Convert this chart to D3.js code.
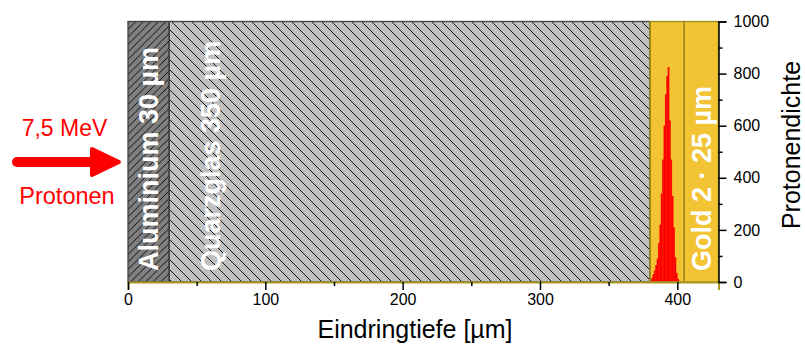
<!DOCTYPE html>
<html>
<head>
<meta charset="utf-8">
<script src="https://cdn.jsdelivr.net/npm/d3@7"></script>
<style>
  body { margin: 0; background: #fff; }
  text { font-family: "Liberation Sans", Arial, sans-serif; }
</style>
</head>
<body>
<script>
// layers of the target stack (µm)
var layerNames = ["Aluminium 30 µm", "Quarzglas 350 µm", "", "Gold 2 · 25 µm"],
    layerStart = [0, 30, 380, 405],
    layerEnd   = [30, 380, 405, 430];

// proton density histogram, 1 µm bins (bin centre, counts)
var binCenter = [380.5, 381.5, 382.5, 383.5, 384.5, 385.5, 386.5, 387.5, 388.5, 389.5, 390.5,
                 391.5, 392.5, 393.5, 394.5, 395.5, 396.5, 397.5, 398.5, 399.5, 400.5, 401.5],
    binCount  = [8, 15, 30, 45, 65, 90, 150, 220, 340, 470, 600,
                 720, 790, 825, 620, 470, 330, 210, 95, 35, 12, 4];

var xTicks = [0, 100, 200, 300, 400],
    xMinor = [50, 150, 250, 350],
    yTicks = [0, 200, 400, 600, 800, 1000],
    yMinor = [100, 300, 500, 700, 900];

var canvasWidth = 805, canvasHeight = 344,
    plotLeft = 128, plotRight = 718.5, plotTop = 21.5, plotBottom = 282;

var svg = d3.select("body").append("svg")
    .attr("width", canvasWidth)
    .attr("height", canvasHeight);

var x = d3.scaleLinear().domain([0, 430]).range([plotLeft, plotRight]);
var y = d3.scaleLinear().domain([0, 1000]).range([plotBottom, plotTop]);

// hatch patterns
var defs = svg.append("defs");
defs.append("pattern")
    .attr("id", "hatchAl")
    .attr("patternUnits", "userSpaceOnUse")
    .attr("width", 7.5).attr("height", 7.5)
  .append("path")
    .attr("d", "M0,7.5 L7.5,0 M-1,1 L1,-1 M6.5,8.5 L8.5,6.5")
    .attr("stroke", "#000").attr("stroke-width", 0.9);
defs.append("pattern")
    .attr("id", "hatchQz")
    .attr("patternUnits", "userSpaceOnUse")
    .attr("width", 10).attr("height", 10)
  .append("path")
    .attr("d", "M0,0 L10,10 M-1,9 L1,11 M9,-1 L11,1")
    .attr("stroke", "#000").attr("stroke-width", 0.9);

var fills = ["#7f7f7f", "#c0c0c0", "#f2c332", "#f2c332"],
    hatches = ["url(#hatchAl)", "url(#hatchQz)", null, null],
    borders = ["#404040", "#404040", "#9a8c1c", "#9a8c1c"];

var layers = layerStart.map(function(s, i) {
    return {name: layerNames[i], s: s, e: layerEnd[i], i: i};
});

var g = svg.append("g").attr("class", "layers");
g.selectAll("rect.fill").data(layers).enter()
    .append("rect")
    .attr("x", function(d) { return x(d.s); })
    .attr("y", plotTop)
    .attr("width", function(d) { return x(d.e) - x(d.s); })
    .attr("height", plotBottom - plotTop)
    .attr("fill", function(d) { return fills[d.i]; });
g.selectAll("rect.hatch").data(layers.filter(function(d) { return hatches[d.i]; })).enter()
    .append("rect")
    .attr("x", function(d) { return x(d.s); })
    .attr("y", plotTop)
    .attr("width", function(d) { return x(d.e) - x(d.s); })
    .attr("height", plotBottom - plotTop)
    .attr("fill", function(d) { return hatches[d.i]; });

// histogram
svg.append("g").selectAll("rect").data(binCenter).enter()
    .append("rect")
    .attr("x", function(d) { return x(d - 0.5); })
    .attr("y", function(d, i) { return y(binCount[i]); })
    .attr("width", function(d) { return x(d + 0.5) - x(d - 0.5) + 0.3; })
    .attr("height", function(d, i) { return plotBottom - y(binCount[i]); })
    .attr("fill", "#ff0000");

// layer borders
svg.append("g").selectAll("rect").data(layers).enter()
    .append("rect")
    .attr("x", function(d) { return x(d.s); })
    .attr("y", plotTop)
    .attr("width", function(d) { return x(d.e) - x(d.s); })
    .attr("height", plotBottom - plotTop)
    .attr("fill", "none")
    .attr("stroke", function(d) { return borders[d.i]; })
    .attr("stroke-width", 1.3);

// layer labels
var labelX = [158, 220, 0, 710.5];
svg.append("g").selectAll("text").data(layers.filter(function(d) { return d.name; })).enter()
    .append("text")
    .attr("transform", function(d) { return "translate(" + labelX[d.i] + "," + 271 + ") rotate(-90)"; })
    .attr("fill", "#fff")
    .attr("font-weight", "bold")
    .attr("font-size", 27)
    .text(function(d) { return d.name; });

// x axis
var xAxis = svg.append("g")
    .attr("transform", "translate(0," + plotBottom + ")")
    .call(d3.axisBottom(x).tickValues(xTicks).tickSize(8).tickPadding(4).tickFormat(d3.format("d")));
xAxis.select(".domain").attr("stroke", "#a89a1e").attr("stroke-width", 2);
xAxis.selectAll(".tick line").attr("stroke-width", 1.5);
xAxis.selectAll("text").attr("font-size", 16).attr("fill", "#000")
    .style("font-family", "Liberation Sans, Arial, sans-serif");
svg.append("g")
    .attr("transform", "translate(0," + plotBottom + ")")
    .call(d3.axisBottom(x).tickValues(xMinor).tickSize(4).tickFormat(""))
    .call(function(a) { a.select(".domain").remove(); a.selectAll("line").attr("stroke-width", 1.5); });

// y axis on the right
var yAxis = svg.append("g")
    .attr("transform", "translate(" + plotRight + ",0)")
    .call(d3.axisRight(y).tickValues(yTicks).tickSize(8).tickPadding(7).tickFormat(d3.format("d")));
yAxis.select(".domain").attr("stroke", "#000").attr("stroke-width", 1.5);
yAxis.selectAll(".tick line").attr("stroke-width", 1.5);
yAxis.selectAll("text").attr("font-size", 16).attr("fill", "#000")
    .style("font-family", "Liberation Sans, Arial, sans-serif");
svg.append("g")
    .attr("transform", "translate(" + plotRight + ",0)")
    .call(d3.axisRight(y).tickValues(yMinor).tickSize(4).tickFormat(""))
    .call(function(a) { a.select(".domain").remove(); a.selectAll("line").attr("stroke-width", 1.5); });

// axis titles
svg.append("text")
    .attr("x", 415).attr("y", 338)
    .attr("text-anchor", "middle")
    .attr("font-size", 25)
    .text("Eindringtiefe [µm]");
svg.append("text")
    .attr("transform", "translate(800,145) rotate(-90)")
    .attr("text-anchor", "middle")
    .attr("font-size", 25)
    .text("Protonendichte");

// beam annotation
svg.append("text")
    .attr("x", 64.5).attr("y", 136)
    .attr("text-anchor", "middle")
    .attr("font-size", 23)
    .attr("fill", "#ff0000")
    .text("7,5 MeV");
svg.append("text")
    .attr("x", 67).attr("y", 204)
    .attr("text-anchor", "middle")
    .attr("font-size", 23.5)
    .attr("fill", "#ff0000")
    .text("Protonen");
svg.append("line")
    .attr("x1", 17).attr("y1", 162).attr("x2", 95).attr("y2", 162)
    .attr("stroke", "#ff0000").attr("stroke-width", 10).attr("stroke-linecap", "round");
svg.append("path")
    .attr("d", "M92,149 L119,162 L92,175 Z")
    .attr("fill", "#ff0000")
    .attr("stroke", "#ff0000").attr("stroke-width", 4).attr("stroke-linejoin", "round");
</script>
</body>
</html>
